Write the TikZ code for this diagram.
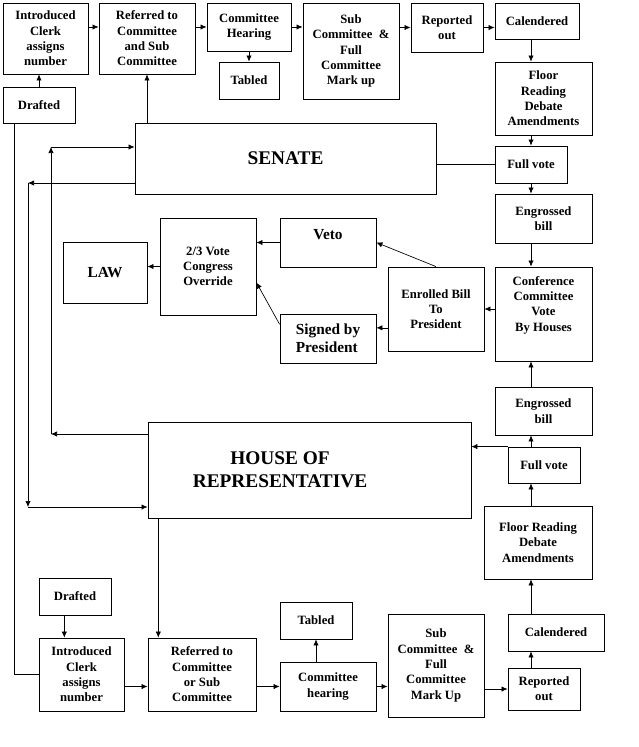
\documentclass[tikz,border=0pt]{standalone}
\usepackage{fontspec}
\setmainfont{Liberation Serif}
\usetikzlibrary{shadows,arrows.meta}
\begin{document}
\begin{tikzpicture}[x=0.75pt,y=-0.75pt]
\tikzstyle{box}=[draw,line width=0.6pt,fill=white,drop shadow={shadow xshift=0.9pt,shadow yshift=-0.9pt,fill=black!45,opacity=1},align=center,inner sep=1pt,font=\bfseries\fontsize{9.5}{11.5}\selectfont]
\tikzstyle{bigbox}=[box,font=\bfseries\fontsize{11.5}{13.5}\selectfont]
\tikzstyle{chamber}=[font=\bfseries\fontsize{14.5}{17.6}\selectfont,align=center]
\tikzstyle{link}=[line width=0.5pt,-{Latex[length=4.5pt,width=4pt]}]
\useasboundingbox (0,0) rectangle (639,747);
\node[box,minimum width=63.75pt,minimum height=53.25pt] (intro1) at (45.5,38.5) {Introduced\\Clerk\\assigns\\number};
\node[box,minimum width=72pt,minimum height=53.25pt] (ref1) at (147,38.5) {Referred to\\Committee\\and Sub\\Committee};
\node[box,minimum width=63pt,minimum height=36pt] (hear1) at (249,27) {Committee\\Hearing};
\node[box,minimum width=45pt,minimum height=27.75pt] (tab1) at (249,80.5) {Tabled};
\node[box,minimum width=72pt,minimum height=72pt] (mark1) at (351,51) {Sub\\Committee~~\&\\Full\\Committee\\Mark up};
\node[box,minimum width=54pt,minimum height=36.75pt] (rep1) at (447,27.5) {Reported\\out};
\node[box,minimum width=63pt,minimum height=27pt] (cal1) at (537,21) {Calendered};
\node[box,minimum width=54pt,minimum height=27pt] (draft1) at (39,105) {Drafted};
\node[box,minimum width=72.75pt,minimum height=54.75pt] (floor1) at (543.5,98.5) {Floor\\Reading\\Debate\\Amendments};
\node[box,chamber,minimum width=225.75pt,minimum height=53.25pt] (senate) at (285.5,158.5) {SENATE};
\node[box,minimum width=54pt,minimum height=27.75pt] (vote1) at (531,164.5) {Full vote};
\node[box,minimum width=72.75pt,minimum height=36.75pt] (eng1) at (543.5,218.5) {Engrossed\\bill};
\node[bigbox,text depth=12pt,minimum width=72pt,minimum height=36.75pt] (veto) at (328,242.5) {Veto};
\node[box,minimum width=72pt,minimum height=72.75pt] (over) at (208,266.5) {2/3 Vote\\Congress\\Override};
\node[bigbox,minimum width=63pt,minimum height=45.75pt] (law) at (105,272.5) {LAW};
\node[box,minimum width=72pt,minimum height=63pt] (enr) at (436,309) {Enrolled Bill\\To\\President};
\node[box,text depth=15.5pt,minimum width=72.75pt,minimum height=70.5pt] (conf) at (543.5,314) {Conference\\Committee\\Vote\\By Houses};
\node[bigbox,align=left,minimum width=72pt,minimum height=36.75pt] (sign) at (328,338.5) {Signed by\\President};
\node[box,minimum width=72.75pt,minimum height=36pt] (eng2) at (543.5,411) {Engrossed\\bill};
\node[box,minimum width=242.25pt,minimum height=72pt] (house) at (309.5,470) {};
\node[chamber] (housetext) at (280,470) {HOUSE OF\\REPRESENTATIVE};
\node[box,minimum width=54pt,minimum height=27pt] (vote2) at (544,465) {Full vote};
\node[box,minimum width=81pt,minimum height=54.75pt] (floor2) at (538,542.5) {Floor Reading\\Debate\\Amendments};
\node[box,minimum width=54pt,minimum height=27.75pt] (draft2) at (75,596.5) {Drafted};
\node[box,minimum width=54pt,minimum height=27.75pt] (tab2) at (316,620.5) {Tabled};
\node[box,minimum width=63.75pt,minimum height=54.75pt] (intro2) at (81.5,674.5) {Introduced\\Clerk\\assigns\\number};
\node[box,minimum width=81pt,minimum height=54.75pt] (ref2) at (202,674.5) {Referred to\\Committee\\or Sub\\Committee};
\node[box,minimum width=72pt,minimum height=36.75pt] (hear2) at (328,686.5) {Committee\\hearing};
\node[box,minimum width=72pt,minimum height=77.25pt] (mark2) at (436,665.5) {Sub\\Committee~~\&\\Full\\Committee\\Mark Up};
\node[box,minimum width=72pt,minimum height=27.75pt] (cal2) at (556,632.5) {Calendered};
\node[box,minimum width=54pt,minimum height=31.5pt] (rep2) at (544,689) {Reported\\out};
\coordinate (a1) at (51,434);
\coordinate (a2) at (51,147);
\coordinate (b1) at (28,183);
\coordinate (b2) at (28,507);
\draw[link] (intro1.east |- hear1) -- (ref1.west |- hear1);
\draw[link] (ref1.east |- hear1) -- (hear1.west);
\draw[link] (hear1.east) -- (mark1.west |- hear1);
\draw[link] (mark1.east |- rep1) -- (rep1.west);
\draw[link] (rep1.east) -- (cal1.west |- rep1);
\draw[link] (hear1.south) -- (tab1.north);
\draw[link] (draft1.north) -- (intro1.south -| draft1);
\draw[link] (senate.north -| ref1) -- (ref1.south);
\draw[link] (cal1.south -| vote1) -- (floor1.north -| vote1);
\draw[link] (floor1.south -| vote1) -- (vote1.north);
\draw[link] (vote1.south) -- (eng1.north -| vote1);
\draw[link] (eng1.south -| vote1) -- (conf.north -| vote1);
\draw[line width=0.5pt] (vote1.west) -- (vote1.west -| senate.east);
\draw[link] (conf.west |- enr) -- (enr.east);
\draw[link] (enr.north) -- (veto.east);
\draw[link] ([yshift=8pt]sign.east -| enr.west) -- ([yshift=8pt]sign.east);
\draw[link] (veto.west) -- (veto.west -| over.east);
\draw[link] ([yshift=-8pt]sign.north west) -- ([yshift=-12pt]over.east);
\draw[link] (over.west) -- (over.west -| law.east);
\draw[link] (eng2.north -| vote1) -- (conf.south -| vote1);
\draw[link] (vote2.north -| vote1) -- (eng2.south -| vote1);
\draw[link] (floor2.north -| vote1) -- (vote2.south -| vote1);
\draw[link] (cal2.north -| vote1) -- (floor2.south -| vote1);
\draw[link] (rep2.north -| vote1) -- (cal2.south -| vote1);
\draw[link] (vote2.north west) -- (vote2.north west -| house.east);
\draw[link] (intro2.east |- hear2) -- (ref2.west |- hear2);
\draw[link] (ref2.east |- hear2) -- (hear2.west);
\draw[link] (hear2.east) -- (mark2.west |- hear2);
\draw[link] (mark2.east |- rep2) -- (rep2.west);
\draw[link] (hear2.north -| tab2) -- (tab2.south);
\draw[link] ([xshift=-8pt]draft2.south) -- ([xshift=-8pt]draft2.south |- intro2.north);
\draw[link] ([xshift=8pt]house.south west) -- ([xshift=8pt]ref2.north west);
\draw[line width=0.5pt] ([xshift=9pt]draft1.south west) |- (intro2.west);
\draw[link] (house.west |- a1) -- (a1);
\draw[link] (a1) -- (a2);
\draw[link] (a2) -- (senate.west |- a2);
\draw[link] (senate.west |- b1) -- (b1);
\draw[link] (b1) -- (b2);
\draw[link] (b2) -- (house.west |- b2);
\end{tikzpicture}
\end{document}
